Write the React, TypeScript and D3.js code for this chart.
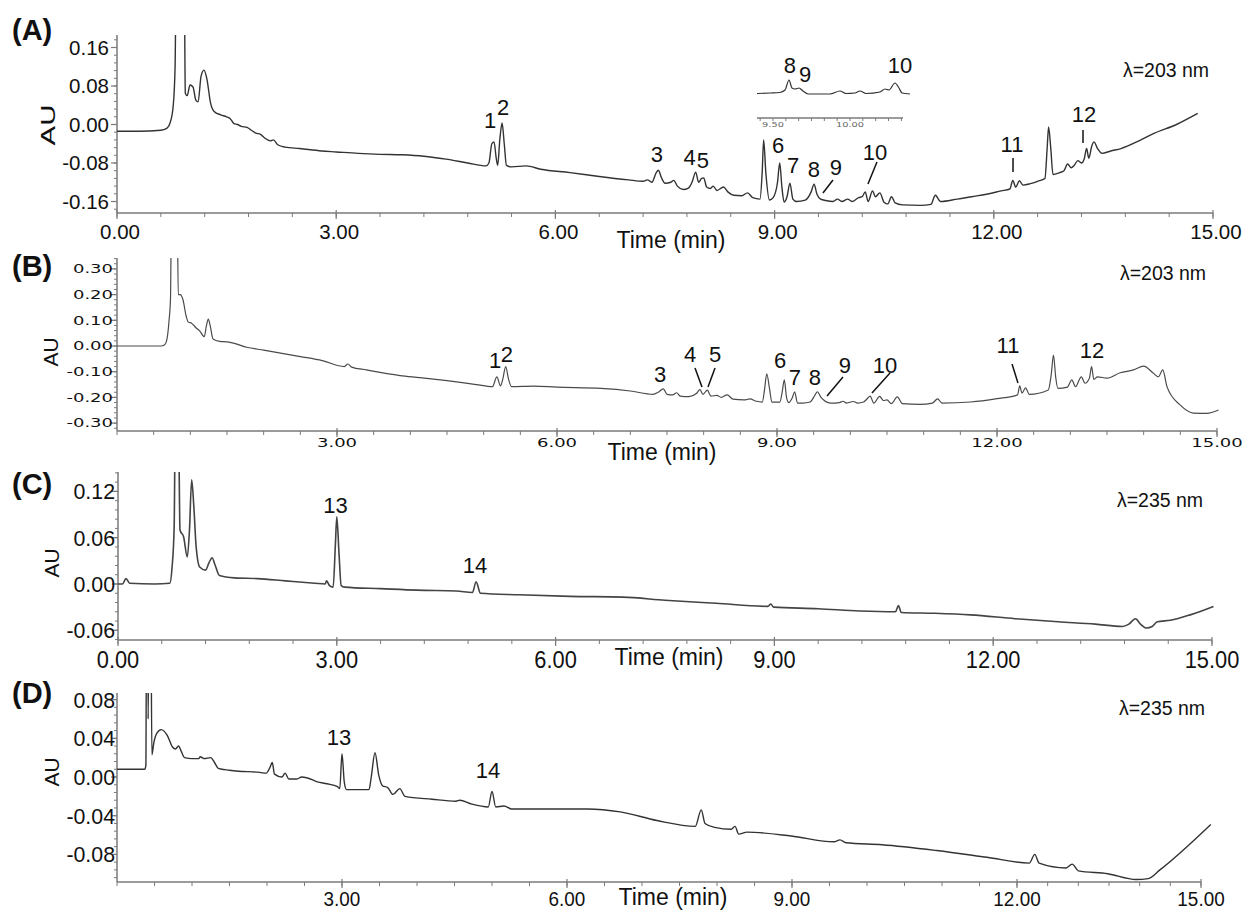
import React from 'react';
import * as d3 from 'd3';

type P = [number, number];

// ---------------- DATA ----------------
const traceA: P[] = [
  [0, -0.014], [0.3, -0.014], [0.6, -0.012], [0.68, -0.008], [0.73, 0.005], [0.77, 0.04], [0.795, 0.12], [0.81, 0.3],
  [0.92, 0.3], [0.935, 0.065], [0.96, 0.06], [1.0, 0.082], [1.04, 0.078], [1.08, 0.05], [1.11, 0.047], [1.15, 0.1],
  [1.19, 0.113], [1.23, 0.095], [1.28, 0.045], [1.33, 0.027], [1.42, 0.02], [1.5, 0.016], [1.55, 0.012], [1.6, 0.002],
  [1.65, 0.0], [1.7, -0.004], [1.78, -0.006], [1.84, -0.012], [1.9, -0.018], [1.96, -0.02], [2.02, -0.028], [2.1, -0.034],
  [2.14, -0.032], [2.2, -0.042], [2.3, -0.047], [2.5, -0.05], [2.8, -0.055], [3.0, -0.057], [3.3, -0.06], [3.6, -0.062],
  [3.9, -0.063], [4.2, -0.066], [4.5, -0.072], [4.8, -0.08], [5.05, -0.086], [5.09, -0.08], [5.13, -0.04], [5.16, -0.036],
  [5.19, -0.07], [5.21, -0.085], [5.24, -0.03], [5.27, 0.003], [5.3, -0.04], [5.33, -0.085], [5.4, -0.088], [5.6, -0.086],
  [5.8, -0.093], [6.2, -0.1], [6.6, -0.108], [7.0, -0.115], [7.2, -0.118], [7.26, -0.115], [7.32, -0.12], [7.38, -0.1],
  [7.41, -0.095], [7.45, -0.11], [7.5, -0.122], [7.58, -0.12], [7.62, -0.116], [7.67, -0.128], [7.75, -0.135], [7.82, -0.132],
  [7.87, -0.12], [7.92, -0.099], [7.96, -0.12], [8.0, -0.112], [8.03, -0.111], [8.07, -0.13], [8.12, -0.133], [8.16, -0.128],
  [8.21, -0.137], [8.3, -0.13], [8.36, -0.14], [8.44, -0.147], [8.55, -0.148], [8.63, -0.142], [8.7, -0.152], [8.8, -0.155],
  [8.83, -0.1], [8.85, -0.032], [8.88, -0.1], [8.93, -0.157], [8.98, -0.152], [9.04, -0.12], [9.07, -0.08], [9.1, -0.13],
  [9.13, -0.161], [9.17, -0.15], [9.21, -0.122], [9.25, -0.155], [9.3, -0.16], [9.42, -0.157], [9.5, -0.14], [9.54, -0.124],
  [9.58, -0.145], [9.63, -0.155], [9.7, -0.158], [9.8, -0.16], [9.86, -0.155], [9.92, -0.16], [10.0, -0.155], [10.06, -0.16],
  [10.15, -0.152], [10.2, -0.15], [10.24, -0.14], [10.28, -0.16], [10.34, -0.138], [10.38, -0.15], [10.44, -0.142], [10.5, -0.162],
  [10.55, -0.165], [10.6, -0.15], [10.65, -0.163], [10.75, -0.167], [11.0, -0.168], [11.14, -0.166], [11.2, -0.147], [11.27, -0.16],
  [11.5, -0.155], [11.7, -0.15], [11.9, -0.145], [12.1, -0.138], [12.22, -0.134], [12.26, -0.116], [12.3, -0.13], [12.35, -0.117],
  [12.4, -0.126], [12.5, -0.123], [12.6, -0.118], [12.7, -0.112], [12.73, -0.05], [12.75, -0.005], [12.78, -0.05], [12.81, -0.104],
  [12.9, -0.1], [12.96, -0.096], [13.01, -0.082], [13.06, -0.09], [13.1, -0.085], [13.15, -0.075], [13.2, -0.08], [13.24, -0.07],
  [13.27, -0.05], [13.3, -0.07], [13.34, -0.045], [13.37, -0.036], [13.42, -0.05], [13.48, -0.06], [13.6, -0.055], [13.74, -0.05],
  [14.0, -0.033], [14.2, -0.018], [14.5, 0.0], [14.79, 0.023],
];

const insetA: P[] = [
  [9.396, -0.5], [9.481, 0], [9.545, 0.5], [9.578, 3], [9.604, 13], [9.623, 5], [9.643, 4], [9.669, 5], [9.695, 2],
  [9.727, -1], [9.87, -1], [9.935, 2], [9.974, -0.5], [10.032, 0], [10.065, 2], [10.104, -0.5], [10.195, 1], [10.227, 4],
  [10.253, 3], [10.292, 10], [10.318, 5], [10.338, 0], [10.39, -1],
];
const insetTicks: number[] = d3.range(0, 12).map((i) => 9.5 + (i - 1) / 12);
const insetTickLabels: [number, string][] = [[9.5, '9.50'], [10.0, '10.00']];
const insetPeakLabels: [string, number, number][] = [['8', 9.61, 20], ['9', 9.708, 11], ['10', 10.325, 20]];

const traceB: P[] = [
  [0, 0.0], [0.6, 0.0], [0.65, 0.005], [0.68, 0.025], [0.71, 0.1], [0.73, 0.19], [0.745, 0.6], [0.82, 0.6], [0.835, 0.2],
  [0.86, 0.2], [0.9, 0.18], [0.94, 0.12], [0.97, 0.094], [1.02, 0.088], [1.08, 0.07], [1.13, 0.058], [1.19, 0.036], [1.22, 0.08],
  [1.245, 0.105], [1.27, 0.08], [1.31, 0.027], [1.4, 0.018], [1.5, 0.016], [1.6, 0.01], [1.77, -0.005], [2.0, -0.016], [2.5, -0.041],
  [2.8, -0.057], [3.1, -0.08], [3.15, -0.07], [3.2, -0.082], [3.4, -0.093], [3.86, -0.115], [4.13, -0.123], [4.5, -0.135], [4.9, -0.15],
  [5.12, -0.158], [5.18, -0.12], [5.23, -0.155], [5.26, -0.13], [5.3, -0.08], [5.34, -0.13], [5.38, -0.158], [5.68, -0.156], [6.0, -0.16],
  [6.6, -0.165], [7.0, -0.175], [7.31, -0.188], [7.38, -0.18], [7.45, -0.167], [7.5, -0.188], [7.58, -0.19], [7.63, -0.182], [7.68, -0.195],
  [7.8, -0.197], [7.9, -0.185], [7.95, -0.17], [7.99, -0.188], [8.05, -0.172], [8.1, -0.195], [8.18, -0.192], [8.24, -0.2], [8.32, -0.19],
  [8.4, -0.207], [8.55, -0.21], [8.63, -0.206], [8.72, -0.215], [8.8, -0.218], [8.83, -0.17], [8.86, -0.108], [8.9, -0.17], [8.93, -0.218],
  [9.04, -0.218], [9.07, -0.18], [9.1, -0.132], [9.13, -0.2], [9.16, -0.22], [9.21, -0.2], [9.24, -0.178], [9.28, -0.222], [9.35, -0.222],
  [9.45, -0.218], [9.52, -0.19], [9.55, -0.178], [9.6, -0.2], [9.73, -0.222], [9.85, -0.22], [9.9, -0.215], [9.95, -0.222], [10.04, -0.216],
  [10.1, -0.222], [10.18, -0.218], [10.23, -0.205], [10.27, -0.195], [10.32, -0.222], [10.4, -0.196], [10.45, -0.212], [10.5, -0.21],
  [10.56, -0.224], [10.64, -0.198], [10.71, -0.224], [10.95, -0.227], [11.12, -0.222], [11.19, -0.206], [11.25, -0.222], [11.64, -0.218],
  [12.0, -0.205], [12.28, -0.19], [12.31, -0.155], [12.34, -0.183], [12.39, -0.163], [12.44, -0.188], [12.7, -0.171], [12.74, -0.11],
  [12.77, -0.035], [12.8, -0.12], [12.83, -0.165], [12.96, -0.16], [13.02, -0.132], [13.07, -0.158], [13.15, -0.12], [13.2, -0.145],
  [13.26, -0.125], [13.29, -0.08], [13.32, -0.13], [13.37, -0.12], [13.5, -0.125], [13.68, -0.104], [13.86, -0.093], [14.0, -0.078],
  [14.13, -0.105], [14.2, -0.12], [14.26, -0.093], [14.32, -0.16], [14.5, -0.23], [14.68, -0.261], [14.86, -0.262], [15.02, -0.249],
];

const traceC: P[] = [
  [0, 0.0], [0.06, 0.0], [0.11, 0.007], [0.16, 0.001], [0.5, 0.0], [0.71, 0.001], [0.74, 0.02], [0.77, 0.074], [0.785, 0.2],
  [0.83, 0.2], [0.85, 0.07], [0.9, 0.061], [0.95, 0.035], [0.98, 0.07], [1.01, 0.135], [1.04, 0.1], [1.07, 0.05], [1.12, 0.022],
  [1.2, 0.018], [1.25, 0.028], [1.29, 0.034], [1.33, 0.025], [1.39, 0.011], [1.6, 0.008], [1.91, 0.007], [2.3, 0.004], [2.7, 0.001],
  [2.84, 0.0], [2.86, 0.004], [2.9, -0.002], [2.95, -0.004], [2.98, 0.05], [3.0, 0.087], [3.03, 0.04], [3.06, -0.002], [3.11, -0.004],
  [3.6, -0.006], [4.1, -0.008], [4.64, -0.009], [4.86, -0.011], [4.91, 0.003], [4.97, -0.012], [5.5, -0.014], [6.2, -0.016],
  [6.92, -0.017], [7.5, -0.021], [8.2, -0.025], [8.91, -0.029], [8.95, -0.026], [8.99, -0.03], [9.6, -0.032], [10.17, -0.035],
  [10.66, -0.036], [10.7, -0.028], [10.74, -0.037], [11.2, -0.038], [11.69, -0.04], [12.3, -0.045], [12.89, -0.049], [13.4, -0.052],
  [13.77, -0.055], [13.86, -0.052], [13.95, -0.045], [14.02, -0.052], [14.1, -0.057], [14.18, -0.055], [14.25, -0.049], [14.43, -0.047],
  [14.7, -0.04], [15.02, -0.029],
];

const traceD: P[] = [
  [0, 0.008], [0.37, 0.008], [0.385, 0.012], [0.395, 0.2], [0.41, 0.2], [0.415, 0.06], [0.43, 0.2], [0.45, 0.2], [0.465, 0.023],
  [0.49, 0.035], [0.53, 0.045], [0.59, 0.049], [0.67, 0.043], [0.74, 0.031], [0.78, 0.029], [0.82, 0.032], [0.86, 0.026], [0.9, 0.02],
  [1.0, 0.019], [1.09, 0.019], [1.11, 0.021], [1.16, 0.019], [1.25, 0.02], [1.3, 0.015], [1.35, 0.009], [1.5, 0.007], [1.62, 0.006],
  [1.88, 0.005], [1.99, 0.004], [2.04, 0.01], [2.07, 0.015], [2.1, 0.003], [2.2, 0.0], [2.24, 0.004], [2.29, -0.002], [2.4, -0.002],
  [2.46, 0.0], [2.54, -0.001], [2.67, -0.005], [2.8, -0.007], [2.94, -0.01], [2.97, -0.012], [3.0, 0.024], [3.03, -0.005], [3.06, -0.013],
  [3.36, -0.013], [3.39, 0.0], [3.44, 0.025], [3.49, 0.002], [3.54, -0.009], [3.61, -0.011], [3.68, -0.018], [3.77, -0.012], [3.84, -0.02],
  [4.2, -0.023], [4.52, -0.025], [4.57, -0.024], [4.73, -0.028], [4.95, -0.031], [5.0, -0.015], [5.05, -0.031], [5.16, -0.03],
  [5.26, -0.033], [6.27, -0.033], [6.71, -0.036], [7.2, -0.045], [7.71, -0.051], [7.79, -0.034], [7.84, -0.048], [7.97, -0.052],
  [8.19, -0.054], [8.24, -0.051], [8.29, -0.059], [8.4, -0.057], [8.99, -0.061], [9.56, -0.067], [9.64, -0.065], [9.72, -0.068],
  [10.2, -0.07], [10.93, -0.076], [11.6, -0.083], [12.2, -0.089], [12.29, -0.08], [12.36, -0.089], [12.8, -0.094], [12.9, -0.09],
  [13.0, -0.097], [13.48, -0.1], [13.94, -0.106], [14.14, -0.105], [14.33, -0.096], [15.16, -0.049],
];

const yTicksA = [0.16, 0.08, 0, -0.08, -0.16];
const yTicksB = [0.3, 0.2, 0.1, 0, -0.1, -0.2, -0.3];
const yTicksC = [0.12, 0.06, 0, -0.06];
const yTicksD = [0.08, 0.04, 0, -0.04, -0.08];
const xTicksA = [0, 3, 6, 9, 12, 15];
const xTicksB = [3, 6, 9, 12, 15];
const xTicksC = [0, 3, 6, 9, 12, 15];
const xTicksD = [3, 6, 9, 12, 15];

// peak labels: [text, time, AU]
const peaksA: [string, number, number][] = [
  ['1', 5.105, -0.0073], ['2', 5.283, 0.0197], ['3', 7.39, -0.0779], ['4', 7.838, -0.0842], ['5', 8.02, -0.0904],
  ['6', 9.047, -0.0592], ['7', 9.252, -0.1008], ['8', 9.539, -0.1091], ['9', 9.84, -0.1049], ['10', 10.373, -0.0738],
  ['11', 12.249, -0.0571], ['12', 13.234, 0.0052],
];
const leadersA: [number, number, number, number][] = [
  [9.799, -0.1153, 9.662, -0.1423], [10.401, -0.0779, 10.278, -0.1236],
  [12.263, -0.0696, 12.263, -0.0987], [13.221, -0.0114, 13.221, -0.0384],
];
const peaksB: [string, number, number][] = [
  ['1', 5.155, -0.0856], ['2', 5.318, -0.0623], ['3', 7.405, -0.14], ['4', 7.814, -0.0623], ['5', 8.155, -0.0623],
  ['6', 9.041, -0.0856], ['7', 9.245, -0.1518], ['8', 9.518, -0.1518], ['9', 9.927, -0.1051], ['10', 10.473, -0.1051],
  ['11', 12.15, -0.0272], ['12', 13.295, -0.0467],
];
const leadersB: [number, number, number, number][] = [
  [7.882, -0.0856, 7.977, -0.1595], [8.155, -0.0856, 8.059, -0.1595], [9.9, -0.1206, 9.682, -0.1946],
  [10.541, -0.1051, 10.295, -0.1829], [12.205, -0.07, 12.286, -0.144],
];
const peaksC: [string, number, number][] = [['13', 2.983, 0.092], ['14', 4.895, 0.0143]];
const peaksD: [string, number, number][] = [['13', 2.96, 0.0331], ['14', 4.945, -0.001]];

// ---------------- LAYOUT ----------------
const ARIAL = "'Liberation Sans', Arial, sans-serif";
const WIDE = "'DejaVu Sans', Verdana, sans-serif";

interface Font { size: number; sx: number; family: string; }
interface Cfg {
  letter: string; letterY: number;
  xDom: number[]; xRng: number[]; yTop: number; yBot: number;
  yDom: [number, number]; yRng: [number, number];
  yTicks: number[]; yMinor: number; xTicks: number[]; xMinor: number;
  yFont: Font; yLabelX: number; xFont: Font; xLabelY: number; xLabelDx: number;
  trace: P[]; stroke: string; sw: number;
  peaks: [string, number, number][]; leaders: [number, number, number, number][];
  lambda: string; lambdaX: number; lambdaY: number;
  timeX: number; timeY: number; auX: number; auY: number; auSx: number;
}

const panels: Cfg[] = [
  {
    letter: '(A)', letterY: 40, xDom: [0, 15], xRng: [117, 1213], yTop: 35, yBot: 213, yDom: [-0.16, 0.16], yRng: [201.5, 47.5],
    yTicks: yTicksA, yMinor: 0.016, xTicks: xTicksA, xMinor: 0.6,
    yFont: { size: 20.5, sx: 1, family: ARIAL }, yLabelX: 109, xFont: { size: 20.5, sx: 1, family: ARIAL }, xLabelY: 239, xLabelDx: 3,
    trace: traceA, stroke: '#333', sw: 1.4, peaks: peaksA, leaders: leadersA, lambda: 'λ=203 nm', lambdaX: 1166, lambdaY: 77,
    timeX: 671, timeY: 248, auX: 55, auY: 125, auSx: 1.4,
  },
  {
    letter: '(B)', letterY: 276, xDom: [0, 15], xRng: [117, 1217], yTop: 258, yBot: 431, yDom: [-0.3, 0.3], yRng: [423.1, 268.9],
    yTicks: yTicksB, yMinor: 0.02, xTicks: xTicksB, xMinor: 0.5,
    yFont: { size: 12, sx: 1.5, family: WIDE }, yLabelX: 113, xFont: { size: 12, sx: 1.5, family: WIDE }, xLabelY: 447, xLabelDx: 0,
    trace: traceB, stroke: '#4a4a4a', sw: 1.2, peaks: peaksB, leaders: leadersB, lambda: 'λ=203 nm', lambdaX: 1163, lambdaY: 280,
    timeX: 662, timeY: 460, auX: 58, auY: 352, auSx: 1,
  },
  {
    letter: '(C)', letterY: 494, xDom: [0, 15], xRng: [118, 1212], yTop: 472, yBot: 640, yDom: [-0.06, 0.12], yRng: [630.3, 491.4],
    yTicks: yTicksC, yMinor: 0.012, xTicks: xTicksC, xMinor: 0.6,
    yFont: { size: 22, sx: 0.97, family: ARIAL }, yLabelX: 115, xFont: { size: 23, sx: 0.95, family: ARIAL }, xLabelY: 668, xLabelDx: 0,
    trace: traceC, stroke: '#444', sw: 1.6, peaks: peaksC, leaders: [], lambda: 'λ=235 nm', lambdaX: 1160, lambdaY: 507,
    timeX: 669, timeY: 665, auX: 59, auY: 563, auSx: 1,
  },
  {
    letter: '(D)', letterY: 703, xDom: [0, 12, 15], xRng: [117, 1017, 1201], yTop: 693, yBot: 882, yDom: [-0.08, 0.08], yRng: [854.4, 699.6],
    yTicks: yTicksD, yMinor: 0.008, xTicks: xTicksD, xMinor: 0.5,
    yFont: { size: 22, sx: 0.97, family: ARIAL }, yLabelX: 115, xFont: { size: 21, sx: 0.9, family: ARIAL }, xLabelY: 906, xLabelDx: 0,
    trace: traceD, stroke: '#333', sw: 1.4, peaks: peaksD, leaders: [], lambda: 'λ=235 nm', lambdaX: 1162, lambdaY: 715,
    timeX: 673, timeY: 905, auX: 59, auY: 772, auSx: 1,
  },
];

const AXIS = '#7a7a7a';

function fmt(v: number) {
  return (v < 0 ? '-' : '') + Math.abs(v).toFixed(2);
}

function Txt(props: { x: number; y: number; size: number; sx?: number; anchor?: string; family?: string; weight?: string; fill?: string; rotate?: number; children: React.ReactNode }) {
  const { x, y, size, sx = 1, anchor = 'middle', family = ARIAL, weight = 'normal', fill = '#111', rotate = 0 } = props;
  return (
    <text transform={`translate(${x},${y}) rotate(${rotate}) scale(${sx},1)`} fontSize={size} fontFamily={family}
      fontWeight={weight} textAnchor={anchor} fill={fill}>{props.children}</text>
  );
}

function Panel({ c, i }: { c: Cfg; i: number }) {
  const x = d3.scaleLinear().domain(c.xDom).range(c.xRng);
  const y = d3.scaleLinear().domain(c.yDom).range(c.yRng);
  const x0 = c.xRng[0], x1 = c.xRng[c.xRng.length - 1];
  const line = d3.line<P>().x((d) => x(d[0])).y((d) => y(d[1])).curve(d3.curveMonotoneX);
  const yMin = y.invert(c.yBot), yMax = y.invert(c.yTop);
  const minorY = d3.range(Math.ceil(yMin / c.yMinor - 1e-6), Math.floor(yMax / c.yMinor + 1e-6) + 1).map((k) => k * c.yMinor);
  const minorX = d3.range(0, Math.round(15 / c.xMinor) + 1).map((k) => k * c.xMinor);
  const clipId = `clip${i}`;
  return (
    <g>
      <defs>
        <clipPath id={clipId}>
          <rect x={x0} y={c.yTop} width={x1 - x0 + 20} height={c.yBot - c.yTop} />
        </clipPath>
      </defs>
      <line x1={x0} x2={x0} y1={c.yTop} y2={c.yBot} stroke={AXIS} strokeWidth={1.5} />
      <line x1={x0} x2={x1} y1={c.yBot} y2={c.yBot} stroke={AXIS} strokeWidth={1.5} />
      {minorY.map((v, k) => (
        <line key={'my' + k} x1={x0 - 3} x2={x0} y1={y(v)} y2={y(v)} stroke={AXIS} strokeWidth={1} />
      ))}
      {c.yTicks.map((v, k) => (
        <g key={'yt' + k}>
          <line x1={x0 - 6} x2={x0} y1={y(v)} y2={y(v)} stroke={AXIS} strokeWidth={1.2} />
          <Txt x={c.yLabelX} y={y(v) + c.yFont.size * 0.36} size={c.yFont.size} sx={c.yFont.sx} family={c.yFont.family} anchor="end">{fmt(v)}</Txt>
        </g>
      ))}
      {minorX.map((v, k) => (
        <line key={'mx' + k} x1={x(v)} x2={x(v)} y1={c.yBot} y2={c.yBot + 4} stroke={AXIS} strokeWidth={1} />
      ))}
      {c.xTicks.map((v, k) => (
        <g key={'xt' + k}>
          <line x1={x(v)} x2={x(v)} y1={c.yBot - 3} y2={c.yBot + 6} stroke={AXIS} strokeWidth={1.2} />
          <Txt x={x(v) + c.xLabelDx} y={c.xLabelY} size={c.xFont.size} sx={c.xFont.sx} family={c.xFont.family}>{v.toFixed(2)}</Txt>
        </g>
      ))}
      <path d={line(c.trace) || ''} fill="none" stroke={c.stroke} strokeWidth={c.sw} strokeLinejoin="round" clipPath={`url(#${clipId})`} />
      {c.peaks.map(([t, tx, ty], k) => (
        <Txt key={'pk' + k} x={x(tx)} y={y(ty)} size={22}>{t}</Txt>
      ))}
      {c.leaders.map(([t1, v1, t2, v2], k) => (
        <line key={'ld' + k} x1={x(t1)} y1={y(v1)} x2={x(t2)} y2={y(v2)} stroke="#111" strokeWidth={1.5} />
      ))}
      <Txt x={12} y={c.letterY} size={29} weight="bold" anchor="start">{c.letter}</Txt>
      <Txt x={c.auX} y={c.auY} size={21} sx={c.auSx} rotate={-90}>AU</Txt>
      <Txt x={c.timeX} y={c.timeY} size={23}>Time (min)</Txt>
      <Txt x={c.lambdaX} y={c.lambdaY} size={19.5}>{c.lambda}</Txt>
    </g>
  );
}

function Inset() {
  const x = d3.scaleLinear().domain([9.5, 10.0]).range([773, 850]);
  const y = d3.scaleLinear().domain([0, 20]).range([93, 73]);
  const line = d3.line<P>().x((d) => x(d[0])).y((d) => y(d[1])).curve(d3.curveMonotoneX);
  const axisY = 118;
  return (
    <g>
      <path d={line(insetA) || ''} fill="none" stroke="#333" strokeWidth={1.2} />
      <line x1={757} x2={903} y1={axisY} y2={axisY} stroke={AXIS} strokeWidth={1.3} />
      {insetTicks.map((t, k) => (
        <line key={k} x1={x(t)} x2={x(t)} y1={axisY} y2={axisY + 3} stroke={AXIS} strokeWidth={1} />
      ))}
      {insetTickLabels.map(([t, s], k) => (
        <Txt key={'l' + k} x={x(t)} y={127} size={7} sx={1.4} family={WIDE} fill="#666">{s}</Txt>
      ))}
      {insetPeakLabels.map(([s, t, v], k) => (
        <Txt key={'p' + k} x={x(t)} y={y(v)} size={22}>{s}</Txt>
      ))}
    </g>
  );
}

export default function App() {
  return (
    <svg width={1244} height={915} style={{ position: 'absolute', left: 0, top: 0, background: '#fff' }}>
      <rect x={0} y={0} width={1244} height={915} fill="#fff" />
      {panels.map((c, i) => (
        <Panel key={i} c={c} i={i} />
      ))}
      <Inset />
    </svg>
  );
}
